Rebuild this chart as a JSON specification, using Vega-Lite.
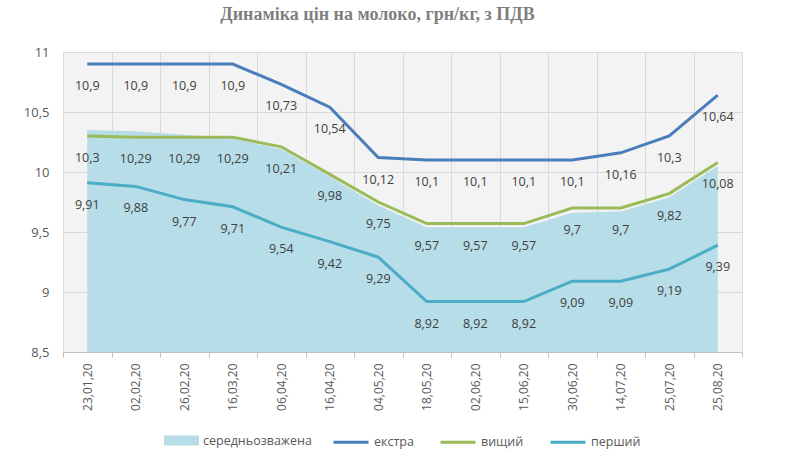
{
  "$schema": "https://vega.github.io/schema/vega-lite/v6.json",
  "width": 679,
  "height": 300,
  "autosize": "none",
  "padding": {"left": 63, "top": 52, "right": 58, "bottom": 113},
  "background": "white",
  "title": {
    "text": "Динаміка цін на молоко, грн/кг, з ПДВ",
    "font": "Liberation Serif",
    "fontSize": 18,
    "fontWeight": "bold",
    "color": "#7f7f7f",
    "anchor": "middle",
    "dx": -25,
    "offset": 22
  },
  "datasets": {
    "avg": [
      {"date": "23,01,20", "series": "середньозважена", "value": 10.35},
      {"date": "02,02,20", "series": "середньозважена", "value": 10.34},
      {"date": "26,02,20", "series": "середньозважена", "value": 10.31},
      {"date": "16,03,20", "series": "середньозважена", "value": 10.28},
      {"date": "06,04,20", "series": "середньозважена", "value": 10.19},
      {"date": "16,04,20", "series": "середньозважена", "value": 9.96},
      {"date": "04,05,20", "series": "середньозважена", "value": 9.72},
      {"date": "18,05,20", "series": "середньозважена", "value": 9.54},
      {"date": "02,06,20", "series": "середньозважена", "value": 9.54},
      {"date": "15,06,20", "series": "середньозважена", "value": 9.54},
      {"date": "30,06,20", "series": "середньозважена", "value": 9.66},
      {"date": "14,07,20", "series": "середньозважена", "value": 9.67},
      {"date": "25,07,20", "series": "середньозважена", "value": 9.79},
      {"date": "25,08,20", "series": "середньозважена", "value": 10.05}
    ],
    "prices": [
      {"date": "23,01,20", "series": "екстра", "value": 10.9},
      {"date": "02,02,20", "series": "екстра", "value": 10.9},
      {"date": "26,02,20", "series": "екстра", "value": 10.9},
      {"date": "16,03,20", "series": "екстра", "value": 10.9},
      {"date": "06,04,20", "series": "екстра", "value": 10.73},
      {"date": "16,04,20", "series": "екстра", "value": 10.54},
      {"date": "04,05,20", "series": "екстра", "value": 10.12},
      {"date": "18,05,20", "series": "екстра", "value": 10.1},
      {"date": "02,06,20", "series": "екстра", "value": 10.1},
      {"date": "15,06,20", "series": "екстра", "value": 10.1},
      {"date": "30,06,20", "series": "екстра", "value": 10.1},
      {"date": "14,07,20", "series": "екстра", "value": 10.16},
      {"date": "25,07,20", "series": "екстра", "value": 10.3},
      {"date": "25,08,20", "series": "екстра", "value": 10.64},
      {"date": "23,01,20", "series": "вищий", "value": 10.3},
      {"date": "02,02,20", "series": "вищий", "value": 10.29},
      {"date": "26,02,20", "series": "вищий", "value": 10.29},
      {"date": "16,03,20", "series": "вищий", "value": 10.29},
      {"date": "06,04,20", "series": "вищий", "value": 10.21},
      {"date": "16,04,20", "series": "вищий", "value": 9.98},
      {"date": "04,05,20", "series": "вищий", "value": 9.75},
      {"date": "18,05,20", "series": "вищий", "value": 9.57},
      {"date": "02,06,20", "series": "вищий", "value": 9.57},
      {"date": "15,06,20", "series": "вищий", "value": 9.57},
      {"date": "30,06,20", "series": "вищий", "value": 9.7},
      {"date": "14,07,20", "series": "вищий", "value": 9.7},
      {"date": "25,07,20", "series": "вищий", "value": 9.82},
      {"date": "25,08,20", "series": "вищий", "value": 10.08},
      {"date": "23,01,20", "series": "перший", "value": 9.91},
      {"date": "02,02,20", "series": "перший", "value": 9.88},
      {"date": "26,02,20", "series": "перший", "value": 9.77},
      {"date": "16,03,20", "series": "перший", "value": 9.71},
      {"date": "06,04,20", "series": "перший", "value": 9.54},
      {"date": "16,04,20", "series": "перший", "value": 9.42},
      {"date": "04,05,20", "series": "перший", "value": 9.29},
      {"date": "18,05,20", "series": "перший", "value": 8.92},
      {"date": "02,06,20", "series": "перший", "value": 8.92},
      {"date": "15,06,20", "series": "перший", "value": 8.92},
      {"date": "30,06,20", "series": "перший", "value": 9.09},
      {"date": "14,07,20", "series": "перший", "value": 9.09},
      {"date": "25,07,20", "series": "перший", "value": 9.19},
      {"date": "25,08,20", "series": "перший", "value": 9.39}
    ]
  },
  "encoding": {
    "x": {
      "field": "date",
      "type": "nominal",
      "bandPosition": 0.5,
      "scale": {
        "type": "band",
        "paddingInner": 0,
        "paddingOuter": 0,
        "domain": ["23,01,20", "02,02,20", "26,02,20", "16,03,20", "06,04,20", "16,04,20", "04,05,20", "18,05,20", "02,06,20", "15,06,20", "30,06,20", "14,07,20", "25,07,20", "25,08,20"]
      },
      "axis": {
        "title": null,
        "labelAngle": -90,
        "labelAlign": "right",
        "labelBaseline": "middle",
        "labelFontSize": 12,
        "labelColor": "#595959",
        "labelFont": "Open Sans",
        "labelPadding": 6,
        "tickBand": "extent",
        "tickSize": 5,
        "tickColor": "#bfbfbf",
        "domainColor": "#bfbfbf",
        "grid": true,
        "gridColor": "#d9d9d9"
      }
    },
    "y": {
      "field": "value",
      "type": "quantitative",
      "scale": {"domain": [8.5, 11], "zero": false, "nice": false},
      "axis": {
        "title": null,
        "values": [8.5, 9, 9.5, 10, 10.5, 11],
        "format": "~g",
        "domain": false,
        "ticks": false,
        "labelPadding": 14,
        "labelFontSize": 13,
        "labelColor": "#595959",
        "labelFont": "Open Sans",
        "grid": true,
        "gridColor": "#d9d9d9"
      }
    }
  },
  "layer": [
    {
      "data": {"name": "avg"},
      "mark": {"type": "area", "clip": true},
      "encoding": {
        "fill": {
          "field": "series",
          "type": "nominal",
          "scale": {"domain": ["середньозважена"], "range": ["#b7dde8"]},
          "legend": {
            "title": null,
            "orient": "bottom",
            "symbolType": "M-1,-0.28H1V0.28H-1Z",
            "symbolSize": 1225,
            "symbolOpacity": 1,
            "symbolStrokeWidth": 0,
            "labelFontSize": 12.5,
            "labelColor": "#595959",
            "labelFont": "Open Sans",
            "offset": 12
          }
        }
      }
    },
    {
      "data": {"name": "prices"},
      "mark": {"type": "line", "strokeWidth": 3},
      "encoding": {
        "stroke": {
          "field": "series",
          "type": "nominal",
          "scale": {"domain": ["екстра", "вищий", "перший"], "range": ["#4a7ebb", "#9bbb59", "#4bacc6"]},
          "legend": {
            "title": null,
            "orient": "bottom",
            "direction": "horizontal",
            "symbolType": "stroke",
            "symbolSize": 1225,
            "symbolStrokeWidth": 3,
            "columnPadding": 20,
            "labelFontSize": 12.5,
            "labelColor": "#595959",
            "labelFont": "Open Sans",
            "offset": 12
          }
        }
      }
    },
    {
      "data": {"name": "prices"},
      "mark": {"type": "text", "dy": 22, "fontSize": 12.5, "font": "Open Sans", "color": "#404040"},
      "encoding": {
        "text": {"field": "value", "type": "quantitative", "format": "~g"}
      }
    }
  ],
  "config": {
    "locale": {"number": {"decimal": ",", "thousands": " ", "grouping": [3], "currency": ["", ""]}},
    "view": {"stroke": "#d9d9d9", "fill": "#f3f3f3"},
    "legend": {"layout": {"bottom": {"anchor": "middle", "direction": "horizontal", "margin": 20}}}
  }
}
